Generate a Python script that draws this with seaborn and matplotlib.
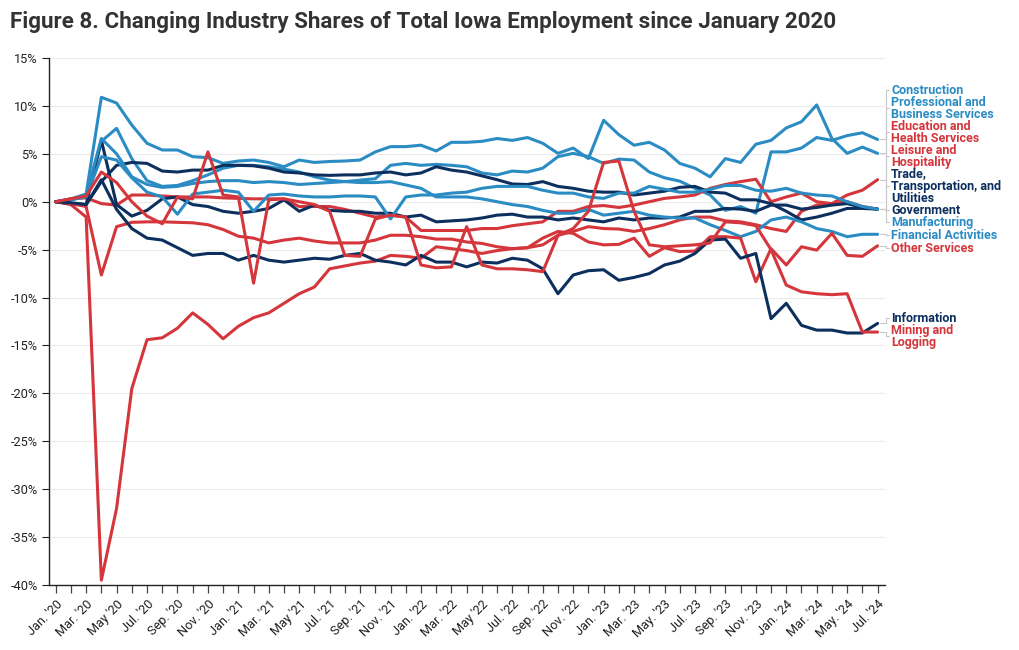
import numpy as np
import pandas as pd
import matplotlib
matplotlib.use("Agg")
import matplotlib.pyplot as plt
import seaborn as sns

# ---------------- data ----------------
tick_labels = ["Jan. '20", "Mar. '20", "May '20", "Jul. '20", "Sep. '20", "Nov. '20",
               "Jan. '21", "Mar. '21", "May '21", "Jul. '21", "Sep. '21", "Nov. '21",
               "Jan. '22", "Mar. '22", "May '22", "Jul. '22", "Sep. '22", "Nov. '22",
               "Jan. '23", "Mar. '23", "May. '23", "Jul. '23", "Sep. '23", "Nov. '23",
               "Jan. '24", "Mar. '24", "May. '24", "Jul. '24"]

construction = [0, 0.2, 0.6, 6.3, 7.66, 4.5, 2.2, 1.6, 1.7, 2.2, 2.8, 3.5,
                3.8, 3.8, 3.65, 3.4, 3.1, 2.6, 2.25, 2.1, 2.25, 2.4, 3.8,
                4.0, 3.8, 3.9, 3.8, 3.65, 3.0, 2.8, 3.2, 3.1, 3.5, 4.7,
                5.05, 4.7, 4.0, 4.45, 4.35, 3.1, 2.5, 2.15, 1.4, 0.7, -0.9,
                -0.5, -1.2, 5.2, 5.2, 5.6, 6.7, 6.4, 6.9, 7.2, 6.5]
prof_business = [0, 0.3, 0.8, 10.9, 10.3, 8.0, 6.1, 5.4, 5.4, 4.7, 4.6, 4.0,
                 4.25, 4.35, 4.1, 3.65, 4.35, 4.1, 4.2, 4.25, 4.35, 5.2, 5.75,
                 5.75, 5.9, 5.3, 6.2, 6.2, 6.3, 6.6, 6.4, 6.7, 6.1, 5.05,
                 5.6, 4.5, 8.5, 7.0, 5.9, 6.2, 5.4, 4.0, 3.5, 2.6, 4.5,
                 4.1, 6.0, 6.4, 7.7, 8.35, 10.1, 6.6, 5.05, 5.7, 5.05]
edu_health = [0, 0.3, 0.4, -0.2, -0.35, 0.7, 0.7, 0.6, 0.5, 0.5, 0.5, 0.4,
              0.35, 0.3, 0.3, 0.3, -0.5, -0.5, -0.5, -0.8, -1.2, -1.6, -1.4,
              -1.6, -3.0, -3.0, -3.0, -3.0, -2.8, -2.8, -2.5, -2.3, -2.1, -1.0,
              -1.0, -0.5, -0.4, -0.6, -0.35, 0.0, 0.35, 0.5, 0.7, 1.4, 1.8,
              2.1, 2.35, 0.0, 0.5, 0.9, 0.0, -0.2, 0.7, 1.2, 2.3]
leisure = [0, -0.3, -1.6, -39.5, -32.0, -19.5, -14.4, -14.2, -13.2, -11.6, -12.8, -14.3,
           -13.0, -12.1, -11.6, -10.6, -9.6, -8.9, -7.0, -6.7, -6.4, -6.2, -5.6,
           -5.7, -5.9, -4.7, -4.9, -5.1, -5.4, -5.1, -4.9, -4.8, -4.5, -3.5,
           -3.1, -2.6, -2.8, -2.85, -3.1, -2.8, -2.4, -1.9, -1.6, -1.6, -2.0,
           -2.1, -2.4, -2.8, -3.1, -1.0, -0.35, -0.2, 0.0, -0.5, -0.77]
trade = [0, -0.2, -0.3, 2.1, 3.8, 4.1, 4.0, 3.2, 3.1, 3.3, 3.3, 3.8,
         3.8, 3.75, 3.5, 3.1, 3.0, 2.8, 2.75, 2.8, 2.8, 3.0, 3.1,
         2.8, 3.0, 3.65, 3.3, 3.1, 2.7, 2.3, 1.85, 1.8, 2.1, 1.6,
         1.4, 1.1, 1.0, 1.0, 0.7, 0.9, 1.1, 1.5, 1.6, 1.0, 0.9,
         0.2, 0.2, -0.2, -1.0, -1.9, -1.6, -1.2, -0.7, -0.7, -0.77]
government = [0, -0.2, -0.3, 6.4, -0.3, -1.5, -0.9, 0.3, 0.5, -0.3, -0.5, -1.0,
              -1.2, -1.0, -0.7, 0.2, -1.0, -0.35, -0.9, -1.0, -1.0, -1.2, -1.2,
              -1.6, -1.4, -2.1, -2.0, -1.9, -1.7, -1.4, -1.3, -1.6, -1.6, -1.9,
              -1.7, -1.9, -2.1, -1.7, -1.9, -1.7, -1.7, -1.6, -1.0, -1.0, -0.7,
              -0.77, -1.0, -0.35, -0.35, -0.77, -0.6, -0.35, -0.2, -0.6, -0.77]
manufacturing = [0, 0.2, 0.5, 4.7, 4.35, 2.5, 1.0, 0.5, -1.3, 0.8, 1.0, 1.2,
                 1.0, -1.0, 0.7, 0.8, 0.6, 0.5, 0.5, 0.6, 0.6, 0.5, -1.8,
                 0.5, 0.7, 0.7, 0.9, 1.0, 1.4, 1.6, 1.6, 1.6, 1.2, 0.9,
                 0.9, 0.5, 0.35, 0.9, 0.9, 1.6, 1.3, 1.0, 1.0, 1.3, 1.7,
                 1.7, 1.2, 1.1, 1.4, 0.9, 0.7, 0.6, 0.0, -0.5, -0.77]
financial = [0, 0.2, 0.7, 6.6, 5.0, 2.6, 1.8, 1.5, 1.6, 1.9, 2.1, 2.2,
             2.2, 2.0, 2.1, 2.0, 1.8, 1.9, 2.0, 2.1, 2.0, 2.0, 2.1,
             1.75, 1.4, 0.5, 0.5, 0.5, 0.3, 0.0, -0.3, -0.5, -0.9, -1.2,
             -1.2, -0.8, -1.4, -1.2, -1.0, -1.4, -1.6, -1.7, -1.7, -2.4, -3.0,
             -3.65, -3.1, -1.9, -1.6, -2.1, -2.8, -3.1, -3.65, -3.4, -3.4]
other_services = [0, -0.2, -0.5, -7.65, -2.6, -2.15, -2.1, -2.1, -2.15, -2.2, -2.4, -2.9,
                  -3.6, -3.8, -4.3, -4.0, -3.8, -4.1, -4.3, -4.3, -4.3, -4.0, -3.5,
                  -3.5, -3.65, -3.9, -3.9, -4.2, -4.35, -4.7, -4.9, -4.8, -3.8, -3.1,
                  -3.3, -4.2, -4.5, -4.45, -3.8, -5.7, -4.8, -5.2, -5.15, -3.65, -3.65,
                  -3.8, -8.35, -4.9, -6.6, -4.7, -5.05, -3.3, -5.6, -5.7, -4.6]
information = [0, -0.1, -0.3, 2.3, -0.8, -2.8, -3.8, -4.0, -4.8, -5.6, -5.4, -5.4,
               -6.1, -5.6, -6.1, -6.3, -6.1, -5.9, -6.0, -5.6, -5.4, -6.1, -6.3,
               -6.6, -5.6, -6.3, -6.3, -6.8, -6.3, -6.4, -5.9, -6.1, -7.0, -9.6,
               -7.65, -7.2, -7.1, -8.2, -7.9, -7.5, -6.6, -6.2, -5.4, -4.0, -3.9,
               -5.9, -5.4, -12.2, -10.6, -12.9, -13.4, -13.4, -13.7, -13.7, -12.7]
mining = [0, 0.3, 0.6, 3.1, 2.0, 0.0, -1.5, -2.3, 0.5, 0.3, 5.2, 0.7,
          0.5, -8.5, 0.2, 0.3, 0.0, -0.3, -1.0, -5.6, -5.7, -1.8, -1.4,
          -1.6, -6.6, -6.9, -6.8, -2.6, -6.6, -7.0, -7.0, -7.1, -7.3, -3.5,
          -2.8, -1.0, 4.1, 4.25, -1.0, -4.5, -4.7, -4.6, -4.5, -4.3, -2.1,
          -2.2, -2.5, -5.0, -8.7, -9.4, -9.6, -9.7, -9.6, -13.6, -13.6]

series_names = ["Construction", "Professional and\nBusiness Services",
                "Education and\nHealth Services", "Leisure and\nHospitality",
                "Trade,\nTransportation, and\nUtilities", "Government",
                "Manufacturing", "Financial Activities", "Other Services",
                "Information", "Mining and\nLogging"]
series_values = [construction, prof_business, edu_health, leisure, trade, government,
                 manufacturing, financial, other_services, information, mining]

# ---------------- style ----------------
BLUE, RED, NAVY = "#2b8cc4", "#d4363c", "#0c2f5e"
series_colors = [BLUE, BLUE, RED, RED, NAVY, NAVY, BLUE, BLUE, RED, NAVY, RED]
label_y_px = [90, 108, 132, 156, 186, 210, 222, 235, 248, 318, 336]

sns.set_theme(style="white")
plt.rcParams["font.family"] = ["Roboto", "DejaVu Sans"]

n = len(construction)
frames = []
for name, vals in zip(series_names, series_values):
    frames.append(pd.DataFrame({"month": np.arange(n), "value": vals, "series": name}))
df = pd.concat(frames, ignore_index=True)

W, H = 1020, 650
fig = plt.figure(figsize=(W / 100, H / 100), dpi=100)
ax_l, ax_r, ax_t, ax_b = 49, 885, 58, 585
ax = fig.add_axes([ax_l / W, 1 - ax_b / H, (ax_r - ax_l) / W, (ax_b - ax_t) / H])

px_per_m = 15.22
x0_px = 55.7
ax.set_xlim((ax_l - x0_px) / px_per_m, (ax_r - x0_px) / px_per_m)
ax.set_ylim(-40, 15)

for y in range(-40, 16, 5):
    ax.axhline(y, color="#ebebeb", lw=0.8, zorder=0)

palette = dict(zip(series_names, series_colors))
sns.lineplot(data=df, x="month", y="value", hue="series", palette=palette,
             legend=False, linewidth=2.2, ax=ax, zorder=3)

for s in ["top", "right"]:
    ax.spines[s].set_visible(False)
for s in ["left", "bottom"]:
    ax.spines[s].set_color("#222222")
    ax.spines[s].set_linewidth(1.0)

ax.set_yticks(range(-40, 16, 5))
ax.set_yticklabels([f"{v}%" for v in range(-40, 16, 5)], fontsize=9.2, color="#222222")
ax.tick_params(axis="y", length=5, width=0.8, color="#222222", pad=3, left=True)

ax.set_xticks(np.arange(n))
xlabels = [""] * n
for i, lab in enumerate(tick_labels):
    xlabels[2 * i] = lab
ax.set_xticklabels(xlabels, rotation=45, ha="right", rotation_mode="anchor",
                   fontsize=9.2, color="#222222")
ax.tick_params(axis="x", length=6, width=0.9, color="#444444", pad=3, bottom=True)
ax.set_xlabel("")
ax.set_ylabel("")
ax.grid(False)

def px2v(py):
    return (201.7 - py) / 9.58

def px2m(px):
    return (px - x0_px) / px_per_m

for name, vals, col, ly in zip(series_names, series_values, series_colors, label_y_px):
    ax.text(px2m(891), px2v(ly), name, color=col, fontsize=9, fontweight="bold",
            ha="left", va="center", linespacing=0.9, clip_on=False)
    yv = vals[-1]
    ax.plot([px2m(880), px2m(886), px2m(886), px2m(889)],
            [yv, yv, px2v(ly), px2v(ly)], color="#c8c8c8", lw=0.8,
            clip_on=False, zorder=1)

fig.text(10 / W, 1 - 22 / H,
         "Figure 8. Changing Industry Shares of Total Iowa Employment since January 2020",
         fontsize=16.1, fontweight="bold", color="#333333", ha="left", va="center")

fig.savefig("out.png", dpi=100)
